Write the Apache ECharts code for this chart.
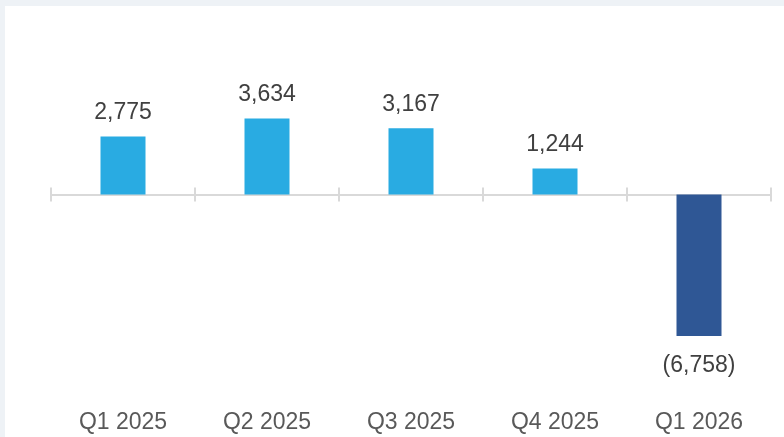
<!DOCTYPE html>
<html>
<head>
<meta charset="utf-8">
<script src="https://cdn.jsdelivr.net/npm/echarts@6/dist/echarts.min.js"></script>
<style>
  body { margin: 0; background: #eef2f6; }
  #bg { position: absolute; left: 5px; top: 6px; right: 0; bottom: 0; background: #fff; }
  #chart { position: absolute; left: 0; top: 0; width: 784px; height: 437px; }
</style>
</head>
<body>
<div id="bg"></div>
<div id="chart"></div>
<script>
var quarters = ['Q1 2025', 'Q2 2025', 'Q3 2025', 'Q4 2025', 'Q1 2026'];
var values = [2775, 3634, 3167, 1244, -6758];

var posColor = '#29abe2';
var negColor = '#2f5795';

// 数字格式，负数加括号
function fmt(v) {
  var s = Math.abs(v).toLocaleString('en-US');
  return v < 0 ? '(' + s + ')' : s;
}

var barData = values.map(function(v) {
  return {
    value: v,
    itemStyle: { color: v < 0 ? negColor : posColor },
    label: { position: v < 0 ? 'bottom' : 'top', distance: v < 0 ? 18 : 12 }
  };
});

var gridBox = { left: 51, right: 13, top: 27, height: 377 };
var tickStyle = { color: '#d9d9d9', width: 2 };

var myChart = echarts.init(document.getElementById('chart'));
var option = {
  animation: false,
  grid: [gridBox, gridBox],
  xAxis: [{
    type: 'category',
    gridIndex: 0,
    data: quarters,
    position: 'bottom',
    axisLine: { onZero: true, lineStyle: tickStyle },
    axisTick: { show: true, length: 7, lineStyle: tickStyle },
    axisLabel: { show: false }
  }, {
    type: 'category',
    gridIndex: 0,
    data: quarters,
    position: 'bottom',
    axisLine: { show: false, onZero: false },
    axisTick: { show: false },
    axisLabel: { margin: 7, color: '#595959', fontSize: 23, fontFamily: 'Liberation Sans' }
  }, {
    // 第二个网格：只画朝上的刻度
    type: 'category',
    gridIndex: 1,
    data: quarters,
    position: 'bottom',
    axisLine: { show: false, onZero: true },
    axisTick: { show: true, inside: true, length: 7, lineStyle: tickStyle },
    axisLabel: { show: false }
  }],
  yAxis: [{
    type: 'value', gridIndex: 0, min: -10000, max: 8000, show: false
  }, {
    type: 'value', gridIndex: 1, min: -10000, max: 8000, show: false
  }],
  series: [{
    type: 'bar',
    xAxisIndex: 0,
    yAxisIndex: 0,
    barWidth: 45,
    data: barData,
    label: {
      show: true,
      color: '#404040',
      fontSize: 23,
      fontFamily: 'Liberation Sans',
      formatter: function(p) { return fmt(p.value); }
    }
  }]
};
myChart.setOption(option);
</script>
</body>
</html>
